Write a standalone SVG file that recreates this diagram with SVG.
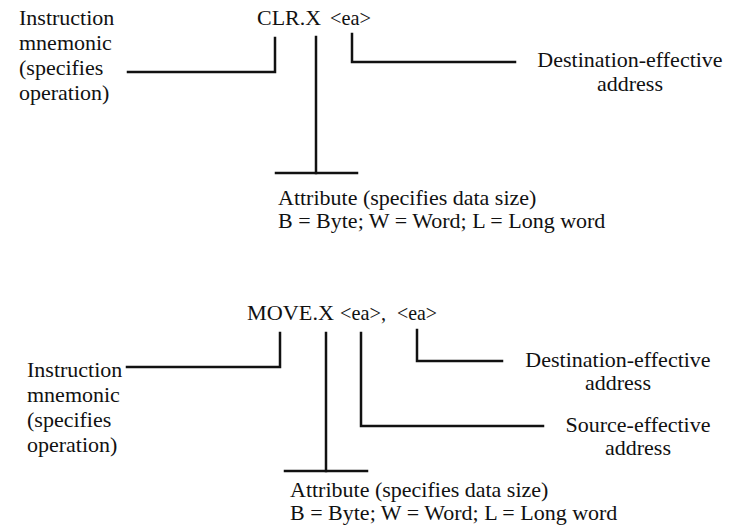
<svg xmlns="http://www.w3.org/2000/svg" width="729" height="529" viewBox="0 0 729 529">
  <style>
    .t { font-family: "Liberation Serif", "Times New Roman", serif; font-size: 22px; fill: #111; }
    .m { text-anchor: middle; }
    .ln { fill: none; stroke: #111; stroke-width: 2.5; stroke-linecap: square; stroke-linejoin: miter; }
  </style>
  <rect width="729" height="529" fill="#fff"/>

  <!-- CLR.X instruction format -->
  <g id="clr-instruction">
    <text class="t" x="257" y="25" textLength="64" lengthAdjust="spacingAndGlyphs">CLR.X</text>
    <text class="t" x="330" y="25" textLength="41" lengthAdjust="spacingAndGlyphs">&lt;ea&gt;</text>
  </g>
  <g id="clr-mnemonic-label">
    <text class="t" x="19" y="25">Instruction</text>
    <text class="t" x="19" y="50">mnemonic</text>
    <text class="t" x="19" y="75">(specifies</text>
    <text class="t" x="19" y="100">operation)</text>
  </g>
  <g id="clr-destination-label">
    <text class="t m" x="630" y="67">Destination-effective</text>
    <text class="t m" x="630" y="91">address</text>
  </g>
  <g id="clr-attribute-label">
    <text class="t" x="278" y="205">Attribute (specifies data size)</text>
    <text class="t" x="278" y="228">B = Byte; W = Word; L = Long word</text>
  </g>

  <!-- MOVE.X instruction format -->
  <g id="move-instruction">
    <text class="t" x="247" y="320" textLength="87" lengthAdjust="spacingAndGlyphs">MOVE.X</text>
    <text class="t" x="340" y="320" textLength="46" lengthAdjust="spacingAndGlyphs">&lt;ea&gt;,</text>
    <text class="t" x="397" y="320" textLength="40" lengthAdjust="spacingAndGlyphs">&lt;ea&gt;</text>
  </g>
  <g id="move-mnemonic-label">
    <text class="t" x="27" y="377">Instruction</text>
    <text class="t" x="27" y="402">mnemonic</text>
    <text class="t" x="27" y="427">(specifies</text>
    <text class="t" x="27" y="452">operation)</text>
  </g>
  <g id="move-destination-label">
    <text class="t m" x="618" y="367">Destination-effective</text>
    <text class="t m" x="618" y="390">address</text>
  </g>
  <g id="move-source-label">
    <text class="t m" x="638" y="432">Source-effective</text>
    <text class="t m" x="638" y="455">address</text>
  </g>
  <g id="move-attribute-label">
    <text class="t" x="290" y="497">Attribute (specifies data size)</text>
    <text class="t" x="290" y="520">B = Byte; W = Word; L = Long word</text>
  </g>

  <!-- leader lines -->
  <g id="connectors" class="ln">
    <!-- CLR.X -->
    <polyline points="128,72 275,72 275,38"/>
    <polyline points="316,37 316,173"/>
    <line x1="276" y1="173" x2="357" y2="173"/>
    <polyline points="352,34 352,62 515,62"/>
    <!-- MOVE.X -->
    <polyline points="127,367 280,367 280,333"/>
    <polyline points="326,333 326,471"/>
    <line x1="285" y1="471" x2="367" y2="471"/>
    <polyline points="361,333 361,426 543,426"/>
    <polyline points="417,330 417,361 502,361"/>
  </g>
</svg>
